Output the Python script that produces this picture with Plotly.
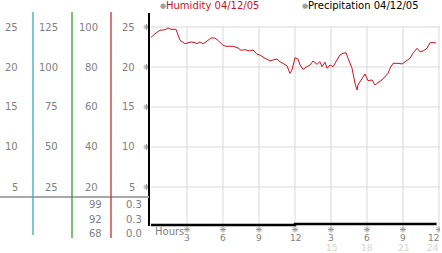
import plotly.graph_objects as go

W, H = 442, 253

# ---- data ----
hum_hours = [0, 0.17, 0.33, 0.75, 1.17, 1.42, 1.67, 2.08, 2.42, 2.83, 3.08, 3.33, 3.67, 3.83,
             4.08, 4.33, 4.58, 5.0, 5.33, 5.58, 6.0, 6.25, 6.83, 7.25, 7.5, 7.83, 8.25, 8.5,
             8.83, 9.08, 9.5, 9.92, 10.17, 10.5, 10.75, 11.0, 11.33, 11.58, 11.75, 12.0,
             12.25, 12.42, 12.67, 13.0, 13.25, 13.5, 13.83, 14.08, 14.25, 14.5, 14.67,
             14.92, 15.17, 15.5, 15.75, 16.0, 16.25, 16.42, 16.75, 17.0, 17.17, 17.25,
             17.58, 17.83, 18.08, 18.42, 18.67, 18.83, 19.25, 19.5, 19.75, 19.92, 20.17,
             20.58, 20.92, 21.17, 21.58, 21.83, 22.17, 22.42, 22.67, 23.0, 23.25, 23.67, 23.75]
humidity = [23.69, 24.0, 24.16, 24.59, 24.66, 24.88, 24.71, 24.71, 23.34, 22.91, 23.04, 23.13,
            23.04, 22.91, 23.13, 22.91, 23.13, 23.63, 23.63, 23.34, 22.71, 22.59, 22.59, 22.38,
            22.09, 22.16, 22.0, 22.13, 21.59, 21.5, 21.09, 20.75, 20.88, 21.0, 20.66, 20.46,
            20.16, 19.21, 19.63, 21.16, 21.0, 20.25, 19.71, 20.04, 20.25, 20.75, 20.34, 20.66,
            20.04, 20.59, 19.84, 20.25, 20.04, 20.88, 21.5, 21.71, 21.79, 21.09, 19.84, 17.96,
            17.13, 17.75, 18.59, 19.13, 18.29, 18.38, 17.75, 17.96, 18.38, 18.79, 19.21, 19.84,
            20.46, 20.46, 20.38, 20.66, 21.09, 21.71, 22.34, 21.91, 22.0, 22.34, 23.04, 23.04, 22.96]

precip_hours = [0, 12, 12, 23.8]
precip = [0.0, 0.0, 0.01, 0.01]

x_ticks = [3, 6, 9, 12, 15, 18, 21, 24]
x_labels = ["3", "6", "9", "12", "3", "6", "9", "12"]
x_labels2 = ["", "", "", "", "15", "18", "21", "24"]
y_ticks = [5, 10, 15, 20, 25]

col1 = ["25", "20", "15", "10", "5"]
col2 = ["125", "100", "75", "50", "25"]
col3 = ["100", "80", "60", "40", "20"]
col4 = ["25", "20", "15", "10", "5"]
col3_low = ["99", "92", "68"]
col4_low = ["0.3", "0.3", "0.0"]

legend_names = ["Humidity 04/12/05", "Precipitation 04/12/05"]

FONT = "DejaVu Sans"
GREY = "#808080"


def px(x):
    return x / W


def py(y):
    return 1 - y / H


XR = [-2 / 12, 24 + 1 / 12]
YR = [0, 26.75]

fig = go.Figure()
fig.add_trace(go.Scatter(x=hum_hours, y=humidity, mode="lines",
                         line=dict(color="#d0101e", width=1), hoverinfo="skip"))
fig.add_trace(go.Scatter(x=precip_hours, y=precip, mode="lines", yaxis="y2",
                         line=dict(color="black", width=2.5, shape="hv"), hoverinfo="skip"))
tick_marker = dict(symbol="asterisk-open", size=5, color="#9a9a9a",
                   line=dict(color="#9a9a9a", width=1))
# x tick symbols: hour positions on x, pixel row on a full-height helper axis
fig.add_trace(go.Scatter(x=x_ticks, y=[229.5] * len(x_ticks), xaxis="x", yaxis="y3",
                         mode="markers", marker=tick_marker, hoverinfo="skip"))
# y tick symbols: value positions on y, pixel column on a full-width helper axis
fig.add_trace(go.Scatter(x=[146.5] * len(y_ticks), y=y_ticks, xaxis="x2", yaxis="y",
                         mode="markers", marker=tick_marker, hoverinfo="skip"))

shapes = []
# gridlines
for t in x_ticks:
    shapes.append(dict(type="line", xref="x", yref="y", x0=t, x1=t, y0=0, y1=25,
                       line=dict(color="#d9d9d9", width=1), layer="below"))
for t in y_ticks:
    shapes.append(dict(type="line", xref="x", yref="y", x0=0, x1=XR[1], y0=t, y1=t,
                       line=dict(color="#d9d9d9", width=1), layer="below"))
# left axis
shapes.append(dict(type="line", xref="paper", yref="paper", x0=px(149), x1=px(149),
                   y0=py(13), y1=py(226), line=dict(color="black", width=2)))
# left panel lines
shapes.append(dict(type="line", xref="paper", yref="paper", x0=0, x1=px(149),
                   y0=py(197), y1=py(197), line=dict(color="#a8a8a8", width=2)))
for xx, col, yb in [(33, "#3aa6c8", 235), (72, "#2f9e2f", 238), (111, "#c03030", 238)]:
    shapes.append(dict(type="line", xref="paper", yref="paper", x0=px(xx), x1=px(xx),
                       y0=py(12), y1=py(yb), line=dict(color=col, width=1.3)))

ann = []
# left labels
ylab = [27, 67, 106, 146, 187]
for i, y in enumerate(ylab):
    for txt, xr in [(col1[i], 20), (col2[i], 60), (col3[i], 100), (col4[i], 137)]:
        ann.append(dict(x=px(xr), y=py(y), xref="paper", yref="paper", text=txt,
                        showarrow=False, xanchor="right", yanchor="middle",
                        font=dict(family=FONT, size=10, color=GREY)))
for i, y in enumerate([204, 219, 233]):
    ann.append(dict(x=px(104), y=py(y), xref="paper", yref="paper", text=col3_low[i],
                    showarrow=False, xanchor="right", yanchor="middle",
                    font=dict(family=FONT, size=10, color=GREY)))
    ann.append(dict(x=px(144), y=py(y), xref="paper", yref="paper", text=col4_low[i],
                    showarrow=False, xanchor="right", yanchor="middle",
                    font=dict(family=FONT, size=10, color=GREY)))
# x labels
ann.append(dict(x=px(153), y=py(231.5), xref="paper", yref="paper", text="Hours",
                showarrow=False, xanchor="left", yanchor="middle",
                font=dict(family=FONT, size=10, color=GREY)))
for t, l1, l2 in zip(x_ticks, x_labels, x_labels2):
    last = t == x_ticks[-1]
    if last:
        common = dict(x=px(441), xref="paper", xanchor="right")
    else:
        common = dict(x=t, xref="x", xanchor="center")
    ann.append(dict(**common, y=py(237.5), yref="paper", text=l1, showarrow=False,
                    yanchor="middle", font=dict(family=FONT, size=9, color=GREY)))
    if l2:
        ann.append(dict(**common, y=py(247.5), yref="paper", text=l2, showarrow=False,
                        yanchor="middle", font=dict(family=FONT, size=9, color="#d4d4d4")))
# legend
for xx, name, col in [(158, legend_names[0], "#d0101e"), (300, legend_names[1], "black")]:
    ann.append(dict(x=px(xx), y=py(6), xref="paper", yref="paper", text="●",
                    showarrow=False, xanchor="left", yanchor="middle",
                    font=dict(family=FONT, size=7, color="#a0a0a0")))
    ann.append(dict(x=px(xx + 6), y=py(6), xref="paper", yref="paper", text=name,
                    showarrow=False, xanchor="left", yanchor="middle",
                    font=dict(family=FONT, size=10, color=col)))

hidden = dict(showgrid=False, zeroline=False, showticklabels=False, ticks="",
              showline=False)
fig.update_layout(
    width=W, height=H, margin=dict(l=0, r=0, t=0, b=0),
    paper_bgcolor="white", plot_bgcolor="rgba(0,0,0,0)", showlegend=False,
    xaxis=dict(domain=[px(149), px(440)], range=XR, anchor="y", **hidden),
    xaxis2=dict(domain=[0, 1], range=[0, W], anchor="y", **hidden),
    yaxis=dict(domain=[py(227), py(13)], range=YR, anchor="x", **hidden),
    yaxis2=dict(domain=[py(227), py(13)], range=[-0.02, 2.12], overlaying="y", **hidden),
    yaxis3=dict(domain=[0, 1], range=[H, 0], anchor="x", **hidden),
    shapes=shapes, annotations=ann,
)

fig.write_html("out.html")
